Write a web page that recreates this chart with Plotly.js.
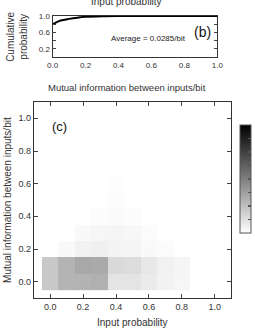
<!DOCTYPE html>
<html><head><meta charset="utf-8">
<script src="https://cdn.plot.ly/plotly-3.0.1.min.js"></script>
<style>html,body{margin:0;padding:0;background:#fff}#c{width:255px;height:330px}</style>
</head><body><div id="c"></div>
<script>
// Panel (b): cumulative probability of mutual information
const miX = [0.0, 0.02, 0.05, 0.1, 0.15, 0.2, 0.3, 0.4, 0.6, 0.8, 1.0];
const cumProb = [0.80, 0.84, 0.89, 0.93, 0.96, 0.98, 0.995, 1.0, 1.0, 1.0, 1.0];

// Panel (c): 2D histogram (darkness 0..1), x = input probability, y = mutual information
const inputProb = [0.0, 0.1, 0.2, 0.3, 0.4, 0.5, 0.6, 0.7, 0.8, 0.9, 1.0];
const mutualInfo = [0.0, 0.1, 0.2, 0.3, 0.4, 0.5, 0.6, 0.7, 0.8, 0.9, 1.0];
const row00 = [0.216, 0.294, 0.298, 0.31, 0.106, 0.106, 0.08, 0.05, 0.035, null, null];
const row01 = [0.216, 0.294, 0.34, 0.333, 0.15, 0.137, 0.09, 0.055, 0.04, null, null];
const row02 = [null, 0.022, 0.05, 0.058, 0.045, 0.038, 0.024, 0.014, null, null, null];
const row03 = [null, null, 0.022, 0.036, 0.04, 0.03, 0.016, null, null, null, null];
const row04 = [null, null, null, 0.012, 0.02, 0.012, null, null, null, null, null];
const row05 = [null, null, null, null, 0.012, null, null, null, null, null, null];
const row06 = [null, null, null, null, 0.009, null, null, null, null, null, null];
const row07 = [null, null, null, null, null, null, null, null, null, null, null];
const density = [row00, row01, row02, row03, row04, row05, row06, row07, row07, row07, row07];

const font = 'Liberation Sans, Arial, sans-serif';
const W = 255, H = 330;
const px = v => v / W, py = v => 1 - v / H;

const traces = [
  {x: miX, y: cumProb, type: 'scatter', mode: 'lines', line: {color: '#000', width: 2, shape: 'spline'},
   xaxis: 'x', yaxis: 'y', hoverinfo: 'skip', showlegend: false},
  {x: inputProb, y: mutualInfo, z: density, type: 'heatmap', xaxis: 'x2', yaxis: 'y2',
   colorscale: [[0, '#ffffff'], [1, '#000000']], zmin: 0, zmax: 1, hoverongaps: false,
   colorbar: {x: px(242), xanchor: 'left', y: py(179), yanchor: 'middle', thickness: 11, thicknessmode: 'pixels',
              len: 108, lenmode: 'pixels', outlinecolor: '#555', outlinewidth: 1,
              showticklabels: false, ticks: 'inside', ticklen: 3, tickcolor: '#555', tickwidth: 1.5,
              tickvals: [0.125, 0.25, 0.375, 0.5, 0.625, 0.75, 0.875], xpad: 0, ypad: 0}}
];

const axBase = {showgrid: false, zeroline: false, showline: true, linecolor: '#333', linewidth: 1,
  mirror: 'ticks', ticks: 'inside', ticklen: 3, tickcolor: '#444', tickfont: {family: font, size: 9, color: '#333'}};

const layout = {
  width: W, height: H, margin: {l: 0, r: 0, t: 0, b: 0}, paper_bgcolor: '#fff', plot_bgcolor: '#fff',
  showlegend: false, font: {family: font, color: '#222'},
  xaxis: Object.assign({}, axBase, {domain: [px(53), px(219)], range: [0, 1], anchor: 'y',
    tickvals: [0, 0.2, 0.4, 0.6, 0.8, 1.0], ticktext: ['0.0', '0.2', '0.4', '0.6', '0.8', '1.0'], ticks: '', tickfont: {family: font, size: 8, color: '#333'}}),
  yaxis: Object.assign({}, axBase, {domain: [py(57), py(16)], range: [0, 1], anchor: 'x',
    tickvals: [0.2, 0.4, 0.6, 0.8, 1.0], ticktext: ['0.2', '', '0.6', '', '1.0'], tickfont: {family: font, size: 8, color: '#333'}}),
  xaxis2: Object.assign({}, axBase, {domain: [px(34), px(233)], range: [-0.1, 1.1], anchor: 'y2',
    tickvals: [0, 0.2, 0.4, 0.6, 0.8, 1.0], ticktext: ['0.0', '0.2', '0.4', '0.6', '0.8', '1.0'], ticklen: 4}),
  yaxis2: Object.assign({}, axBase, {domain: [py(298), py(102)], range: [-0.1, 1.1], anchor: 'x2',
    tickvals: [0, 0.2, 0.4, 0.6, 0.8, 1.0], ticktext: ['0.0', '0.2', '0.4', '0.6', '0.8', '1.0'], ticklen: 4}),
  annotations: [
    {text: 'Input probability', xref: 'paper', yref: 'paper', x: px(128), y: py(1.5), showarrow: false,
     font: {family: font, size: 10, color: '#333'}, xanchor: 'center', yanchor: 'middle'},
    {text: 'Cumulative<br>probability', xref: 'paper', yref: 'paper', x: px(17), y: py(37), showarrow: false,
     textangle: -90, font: {family: font, size: 10, color: '#333'}, xanchor: 'center', yanchor: 'middle'},
    {text: 'Mutual information between inputs/bit', xref: 'paper', yref: 'paper', x: px(128), y: py(87), showarrow: false,
     font: {family: font, size: 9.5, color: '#333'}, xanchor: 'center', yanchor: 'middle'},
    {text: 'Average = 0.0285/bit', xref: 'x', yref: 'y', x: 0.585, y: 0.45, showarrow: false,
     font: {family: font, size: 8, color: '#222'}, xanchor: 'center', yanchor: 'middle'},
    {text: '(b)', xref: 'x', yref: 'y', x: 0.91, y: 0.6, showarrow: false,
     font: {family: font, size: 14, color: '#111'}, xanchor: 'center', yanchor: 'middle'},
    {text: '(c)', xref: 'x2', yref: 'y2', x: 0.055, y: 0.95, showarrow: false,
     font: {family: font, size: 13, color: '#111'}, xanchor: 'center', yanchor: 'middle'},
    {text: 'Mutual information between inputs/bit', xref: 'paper', yref: 'paper', x: px(7), y: py(200), showarrow: false,
     textangle: -90, font: {family: font, size: 10, color: '#333'}, xanchor: 'center', yanchor: 'middle'},
    {text: 'Input probability', xref: 'paper', yref: 'paper', x: px(134), y: py(322), showarrow: false,
     font: {family: font, size: 10, color: '#333'}, xanchor: 'center', yanchor: 'middle'}
  ]
};
Plotly.newPlot('c', traces, layout, {displayModeBar: false, staticPlot: true});
</script></body></html>
